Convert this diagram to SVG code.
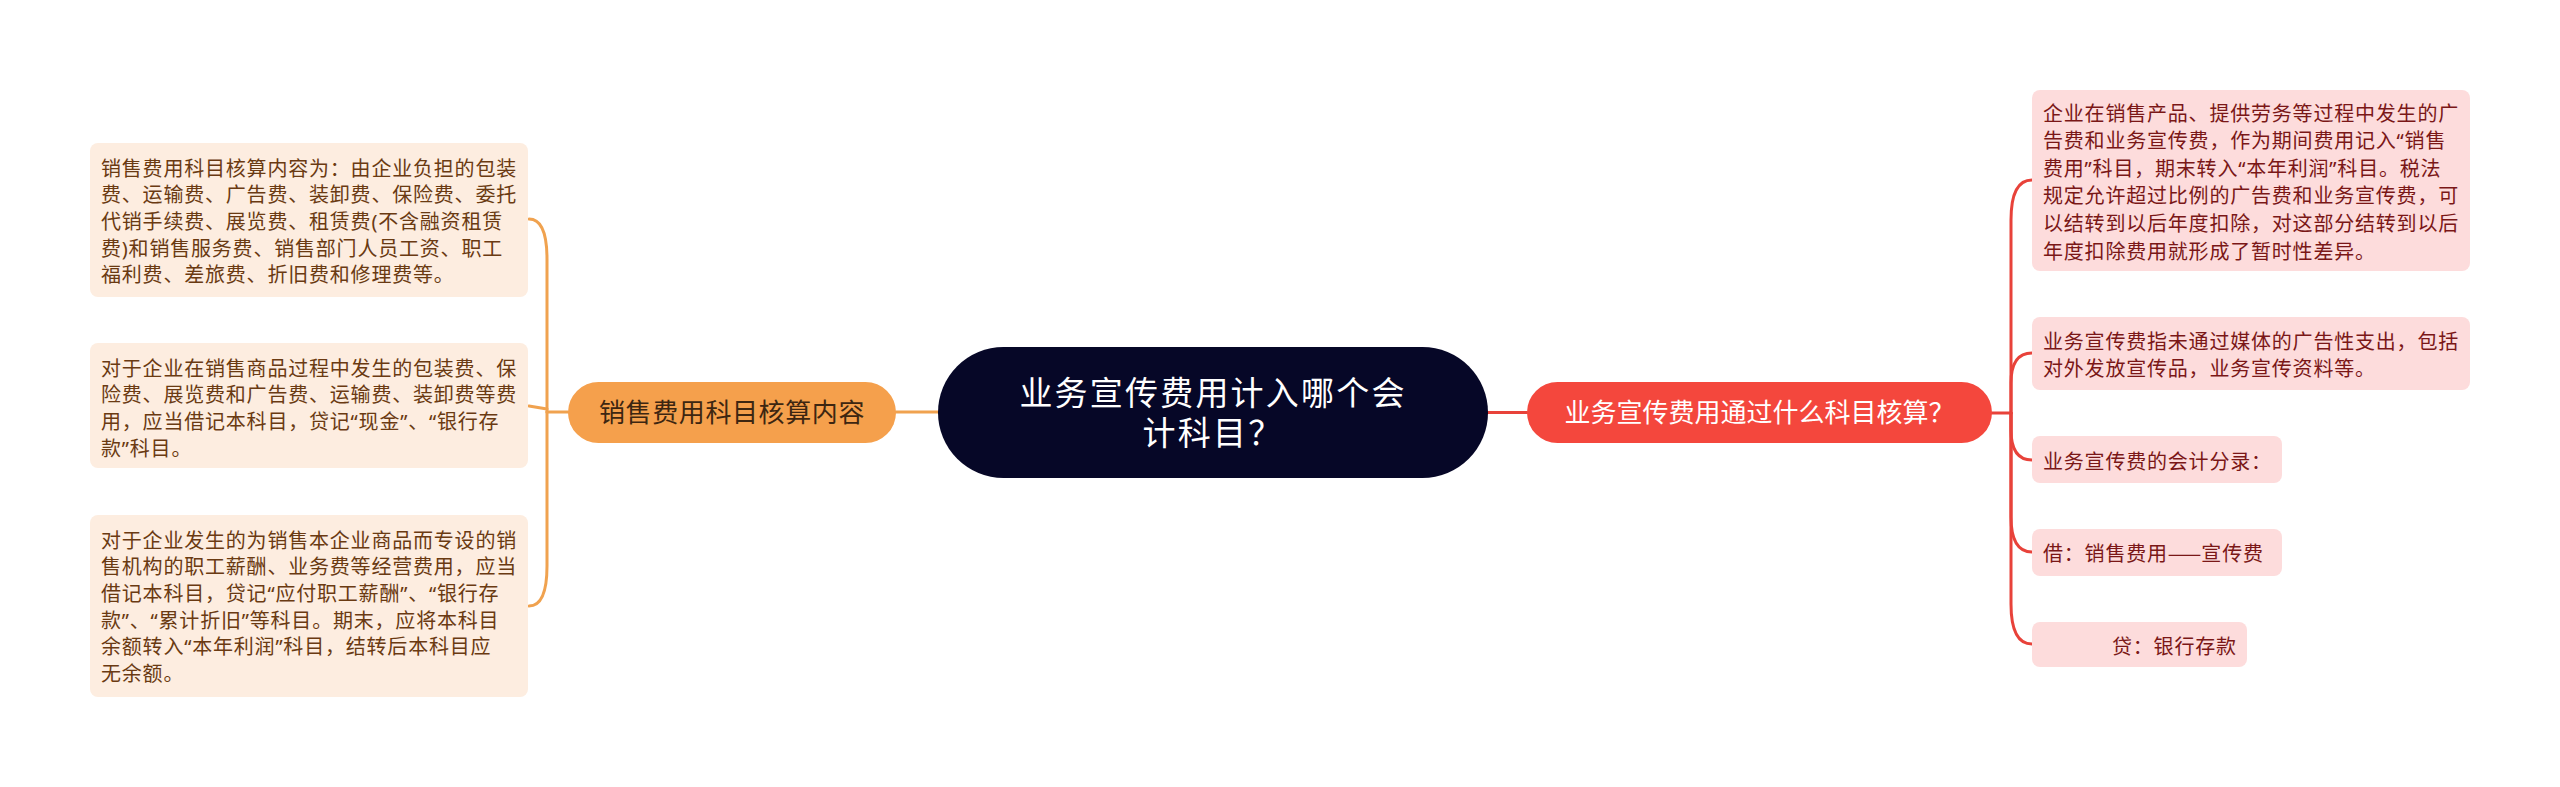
<svg xmlns="http://www.w3.org/2000/svg" width="2560" height="787" viewBox="0 0 2560 787">
<style>
text { font-family: "Noto Sans CJK SC", "Noto Sans", sans-serif; }
.lt, .rt { font-family: "Noto Sans", "Noto Sans CJK SC", sans-serif; }
.lt { fill: #6a3a12; font-size: 20px; letter-spacing: 0.8px; }
.rt { fill: #7a1717; font-size: 20px; letter-spacing: 0.8px; }
.cjk { font-family: "Noto Sans CJK SC", sans-serif; letter-spacing: 0; }
.lbox { fill: #fdede0; }
.rbox { fill: #fddcdc; }
.oc { stroke: #f0a24f; stroke-width: 3; fill: none; stroke-linecap: round; }
.rc { stroke: #e8423a; stroke-width: 3; fill: none; stroke-linecap: round; }
</style>
<rect width="2560" height="787" fill="#ffffff"/>
<g id="connectors">
<path class="oc" d="M896 412 L938 412"/>
<path class="oc" d="M547 412 L568 412"/>
<path class="oc" d="M547 412 L547 259 Q547 219 529 219"/>
<path class="oc" d="M547 412 L547 566 Q547 606 529 606"/>
<path class="oc" d="M547 409 L529 406"/>
<path class="rc" d="M1488 412.5 L1527 412.5"/>
<path class="rc" d="M1992 413 L2011 413"/>
<path class="rc" d="M2011 413 L2011 220 Q2011 180 2032 180"/>
<path class="rc" d="M2011 413 L2011 383 Q2011 353 2032 353"/>
<path class="rc" d="M2011 413 L2011 430 Q2011 460 2032 460"/>
<path class="rc" d="M2011 413 L2011 517 Q2011 552 2032 552"/>
<path class="rc" d="M2011 413 L2011 604 Q2011 644 2032 644"/>
</g>
<g id="center">
<rect x="938" y="347" width="550" height="131" rx="65.5" fill="#060727"/>
<text font-size="33" fill="#ffffff" text-anchor="middle" letter-spacing="2.2"><tspan x="1213" y="405">业务宣传费用计入哪个会</tspan><tspan x="1213" y="445">计科目？</tspan></text>
</g>
<g id="left-main">
<rect x="568" y="382" width="328" height="61" rx="30.5" fill="#f5a04c"/>
<text x="732" y="422" font-size="26" fill="#3d2611" text-anchor="middle" letter-spacing="0.6">销售费用科目核算内容</text>
</g>
<g id="right-main">
<rect x="1527" y="382" width="465" height="61" rx="30.5" fill="#f4473d"/>
<text x="1759.5" y="422" font-size="26" fill="#ffffff" text-anchor="middle">业务宣传费用通过什么科目核算？</text>
</g>
<g id="left-1">
<rect class="lbox" x="90" y="143" width="438" height="154" rx="8"/>
<text class="lt" x="101" y="175.6">销售费用科目核算内容为：由企业负担的包装</text>
<text class="lt" x="101" y="202.3">费、运输费、广告费、装卸费、保险费、委托</text>
<text class="lt" x="101" y="229">代销手续费、展览费、租赁费(不含融资租赁</text>
<text class="lt" x="101" y="255.7">费)和销售服务费、销售部门人员工资、职工</text>
<text class="lt" x="101" y="282.4">福利费、差旅费、折旧费和修理费等。</text>
</g>
<g id="left-2">
<rect class="lbox" x="90" y="343" width="438" height="125" rx="8"/>
<text class="lt" x="101" y="375.6">对于企业在销售商品过程中发生的包装费、保</text>
<text class="lt" x="101" y="402.3">险费、展览费和广告费、运输费、装卸费等费</text>
<text class="lt" x="101" y="429">用，应当借记本科目，贷记“现金”、“银行存</text>
<text class="lt" x="101" y="455.7">款”科目。</text>
</g>
<g id="left-3">
<rect class="lbox" x="90" y="515" width="438" height="182" rx="8"/>
<text class="lt" x="101" y="547.6">对于企业发生的为销售本企业商品而专设的销</text>
<text class="lt" x="101" y="574.3">售机构的职工薪酬、业务费等经营费用，应当</text>
<text class="lt" x="101" y="601">借记本科目，贷记“应付职工薪酬”、“银行存</text>
<text class="lt" x="101" y="627.7">款”、“累计折旧”等科目。期末，应将本科目</text>
<text class="lt" x="101" y="654.4">余额转入“本年利润”科目，结转后本科目应</text>
<text class="lt" x="101" y="681.1">无余额。</text>
</g>
<g id="right-1">
<rect class="rbox" x="2032" y="90" width="438" height="181" rx="8"/>
<text class="rt" x="2043" y="120.6">企业在销售产品、提供劳务等过程中发生的广</text>
<text class="rt" x="2043" y="148.2">告费和业务宣传费，作为期间费用记入“销售</text>
<text class="rt" x="2043" y="175.8">费用”科目，期末转入“本年利润”科目。税法</text>
<text class="rt" x="2043" y="203.4">规定允许超过比例的广告费和业务宣传费，可</text>
<text class="rt" x="2043" y="231">以结转到以后年度扣除，对这部分结转到以后</text>
<text class="rt" x="2043" y="258.6">年度扣除费用就形成了暂时性差异。</text>
</g>
<g id="right-2">
<rect class="rbox" x="2032" y="317" width="438" height="73" rx="8"/>
<text class="rt" x="2043" y="349.3">业务宣传费指未通过媒体的广告性支出，包括</text>
<text class="rt" x="2043" y="376">对外发放宣传品，业务宣传资料等。</text>
</g>
<g id="right-3">
<rect class="rbox" x="2032" y="436" width="250" height="47" rx="8"/>
<text class="rt" x="2043" y="468.6">业务宣传费的会计分录：</text>
</g>
<g id="right-4">
<rect class="rbox" x="2032" y="529" width="250" height="47" rx="8"/>
<text class="rt" x="2043" y="560.6">借：销售费用<tspan class="cjk">——</tspan>宣传费</text>
</g>
<g id="right-5">
<rect class="rbox" x="2032" y="622" width="215" height="45" rx="8"/>
<text class="rt" x="2112" y="653.6">贷：银行存款</text>
</g>
</svg>
